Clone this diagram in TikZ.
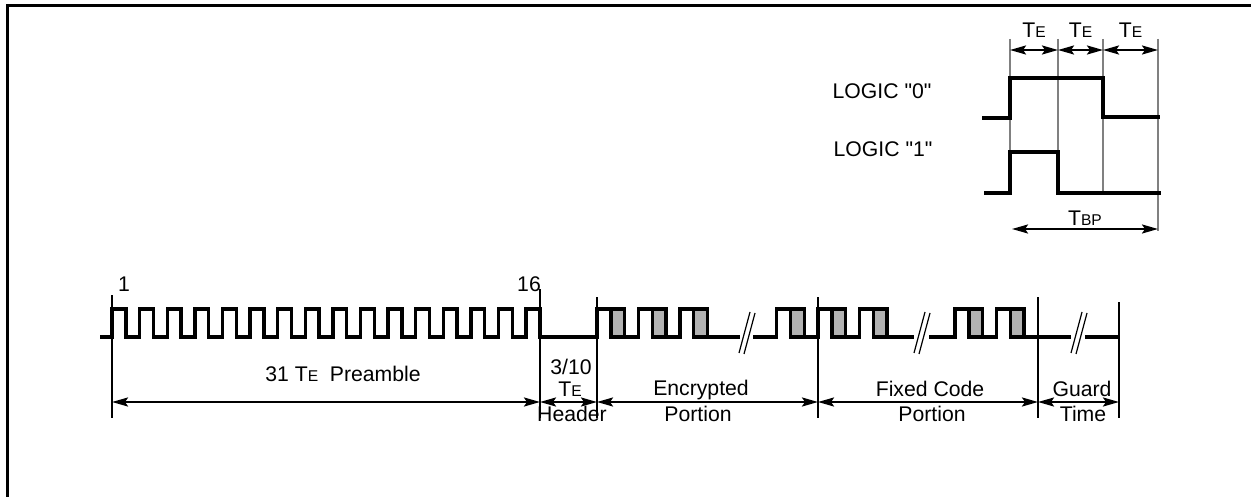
\documentclass[tikz,border=0pt]{standalone}
\usepackage{fontspec}
\setmainfont{Liberation Sans}
\usetikzlibrary{arrows.meta}

\def\hilev{309}
\def\lolev{337}
\def\dimlev{402}
\newcommand{\tsub}[1]{T{\fontsize{7.8}{8}\selectfont #1}}

\begin{document}
\begin{tikzpicture}[x=0.5pt, y=-0.5pt,
                    >={Stealth[length=8pt,width=4.5pt,inset=1.5pt]},
                    sig/.style={line width=1.7pt, line join=miter},
                    tick/.style={line width=1pt},
                    dim/.style={<->, line width=1.1pt},
                    guide/.style={gray, line width=0.6pt},
                    lbl/.style={font=\fontsize{10.6}{12}\selectfont, inner sep=0pt, anchor=base},
                    brk/.pic={\draw [line width=0.6pt] (-7,16) -- (4,-25) (-2,17) -- (9,-24);}
                   ]

    \useasboundingbox (0,0) rectangle (1251,497);
    \pgfmathsetmacro{\te}{13.8}

    % frame
    \draw [line width=1.5pt] (7,497) -- (7,6) -- (1251,6);

    % bit encoding
    \foreach \n/\x/\b in {g1/1010/193, g2/1058/152, g3/1103/193, g4/1158/231}{
        \draw [guide] (\x,39) -- (\x,\b);
        \coordinate (\n) at (\x,50);
    }
    \draw [dim] (g1) -- (g2) node [lbl, midway, yshift=6pt] (te1) {\tsub E};
    \draw [dim] (g2) -- (g3) node [lbl, midway, yshift=6pt] (te2) {\tsub E};
    \draw [dim] (g3) -- (g4) node [lbl, midway, yshift=6pt] (te3) {\tsub E};
    \draw [sig] (982,118) -- (1010,118) -- (1010,78) -- (1103,78) -- (1103,117) -- (1160,117);
    \draw [sig] (984,193) -- (1010,193) -- (1010,152) -- (1058,152) -- (1058,193) -- (1161,193);
    \node [lbl] (log0) at (882,99) {LOGIC \textquotedbl 0\textquotedbl};
    \node [lbl] (log1) at (883,157) {LOGIC \textquotedbl 1\textquotedbl};
    \coordinate (tbp) at (1012,229);
    \draw [dim] (tbp) -- (tbp -| g4) node [lbl, midway, yshift=1.5pt] (tbplbl) {\tsub{BP}};

    % code word
    \foreach \b in {597,638.4,679.8,776.6,818,859.4,955,996.4}
        \filldraw [sig, fill=gray!60] ({\b+\te},\hilev) rectangle ({\b+2*\te},\lolev);
    \draw [sig] (100,\lolev)
        foreach \k in {0,...,15}{ -- ({112+2*\k*\te},\lolev) -- ({112+2*\k*\te},\hilev)
                                  -- ({112+(2*\k+1)*\te},\hilev) -- ({112+(2*\k+1)*\te},\lolev)}
        foreach \b in {597,638.4,679.8}{ -- (\b,\lolev) -- (\b,\hilev)
                                  -- ({\b+2*\te},\hilev) -- ({\b+2*\te},\lolev)}
        -- (740,\lolev);
    \draw [sig] (753,\lolev)
        foreach \b in {776.6,818,859.4}{ -- (\b,\lolev) -- (\b,\hilev)
                                  -- ({\b+2*\te},\hilev) -- ({\b+2*\te},\lolev)}
        -- (914,\lolev);
    \draw [sig] (929,\lolev)
        foreach \b in {955,996.4}{ -- (\b,\lolev) -- (\b,\hilev)
                                  -- ({\b+2*\te},\hilev) -- ({\b+2*\te},\lolev)}
        -- (1071,\lolev);
    \draw [sig] (1085,\lolev) -- (1120,\lolev);
    \foreach \c in {746,921,1078}
        \pic at (\c,\lolev) {brk};

    % spans
    \foreach \n/\x/\t in {p0/112/295, p1/540/289, p2/597/297, p3/818/297, p4/1038/297, p5/1119/302}{
        \draw [tick] (\x,\t) -- (\x,418);
        \coordinate (\n) at (\x,\dimlev);
    }
    \draw [dim] (p0) -- (p1);
    \draw [dim] (p1) -- (p2);
    \draw [dim] (p2) -- (p3);
    \draw [dim] (p3) -- (p4);
    \draw [dim] (p4) -- (p5);

    \node [lbl] (first) at (124,291) {1};
    \node [lbl] (last) at (529,291) {16};
    \node [lbl] (pre) at (343,381) {31 \tsub E\ \ Preamble};
    \node [lbl] (hdr) at (571,374) {3/10};
    \node [lbl] (hdrte) at (570,396) {\tsub E};
    \node [lbl] (hdrlbl) at (572,421) {Header};
    \node [lbl] (enc) at (701,395) {Encrypted};
    \node [lbl] (encp) at (698,421) {Portion};
    \node [lbl] (fix) at (930,396) {Fixed Code};
    \node [lbl] (fixp) at (932,421) {Portion};
    \node [lbl] (grd) at (1082,396) {Guard};
    \node [lbl] (grdt) at (1083,421) {Time};

\end{tikzpicture}
\end{document}
